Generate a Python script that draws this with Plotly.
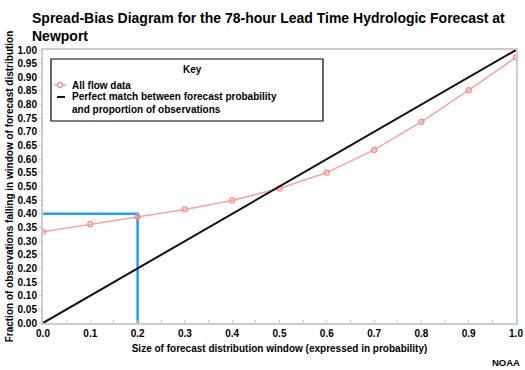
import plotly.graph_objects as go

# ---- data ----
window_size = [0.0, 0.1, 0.2, 0.3, 0.4, 0.5, 0.6, 0.7, 0.8, 0.9, 1.0]
all_flow = [0.334, 0.362, 0.389, 0.416, 0.449, 0.493, 0.551, 0.634, 0.737, 0.853, 0.973]
perfect_x = [0.0, 1.0]
perfect_y = [0.0, 1.0]
guide_x = [0.0, 0.2, 0.2]
guide_y = [0.4, 0.4, 0.0]
x_ticks = [0.0, 0.1, 0.2, 0.3, 0.4, 0.5, 0.6, 0.7, 0.8, 0.9, 1.0]
y_ticks = [i * 0.05 for i in range(21)]
legend_labels = ["All flow data",
                 "Perfect match between forecast probability<br>and proportion of observations"]

FONT = "Liberation Sans, Arial, sans-serif"
PINK_LINE = "#ffa0a0"
PINK_MARK = "#ff8a8a"
W, H = 525, 370
L, R, T, B = 43, 9, 50, 47
pw, ph = W - L - R, H - T - B


def px(x):
    return (x - L) / pw


def py(y):
    return (H - B - y) / ph


fig = go.Figure()
fig.add_trace(go.Scatter(x=guide_x, y=guide_y, mode="lines",
                         line=dict(color="#1ba3f5", width=2.5),
                         showlegend=False, hoverinfo="skip"))
fig.add_trace(go.Scatter(x=window_size, y=all_flow, mode="lines+markers",
                         name=legend_labels[0],
                         line=dict(color=PINK_LINE, width=1.5),
                         marker=dict(symbol="circle-open", size=5,
                                     color=PINK_MARK, line=dict(width=1.3))))
fig.add_trace(go.Scatter(x=perfect_x, y=perfect_y, mode="lines",
                         name=legend_labels[1],
                         line=dict(color="#111111", width=2)))

fig.update_layout(
    width=W, height=H,
    margin=dict(l=L, r=R, t=T, b=B, autoexpand=False),
    paper_bgcolor="white", plot_bgcolor="white",
    font=dict(family=FONT, size=10, color="black", weight="bold"),
    title=dict(text="Spread-Bias Diagram for the 78-hour Lead Time Hydrologic Forecast at<br>Newport",
               x=32 / W, xanchor="left", y=1 - 23 / H, yanchor="top",
               font=dict(family=FONT, size=14, color="black", weight="bold")),
    showlegend=False,
)

fig.update_xaxes(range=[0, 1], tickvals=x_ticks,
                 ticktext=[f"{v:.1f}" for v in x_ticks],
                 showgrid=False, zeroline=False,
                 showline=True, mirror=True, linecolor="#cccccc", linewidth=2,
                 ticks="inside", ticklen=3, tickcolor="#cccccc",
                 minor=dict(dtick=0.05, tick0=0, ticks="inside", ticklen=3, tickcolor="#cccccc"),
                 title=dict(text="Size of forecast distribution window (expressed in probability)",
                            standoff=7, font=dict(size=10, weight="bold")),
                 tickfont=dict(size=10, weight="bold"))
fig.update_yaxes(range=[0, 1], tickvals=y_ticks,
                 ticktext=[f"{v:.2f}" for v in y_ticks],
                 showgrid=False, zeroline=False,
                 showline=True, mirror=True, linecolor="#cccccc", linewidth=2,
                 ticks="outside", ticklen=2, tickcolor="#cccccc",
                 title=dict(text="Fraction of observations falling in window of forecast distribution",
                            standoff=2, font=dict(size=10, weight="bold")),
                 tickfont=dict(size=10, weight="bold"))

# Key box (legend drawn as a boxed key)
fig.add_shape(type="rect", xref="paper", yref="paper",
              x0=px(51), x1=px(323), y0=py(121), y1=py(59),
              line=dict(color="black", width=1.2), fillcolor="rgba(0,0,0,0)")
fig.add_annotation(text="Key", xref="paper", yref="paper",
                   x=px(181), y=py(69), yanchor="middle", showarrow=False,
                   font=dict(size=10, weight="bold"))
# legend symbols
fig.add_shape(type="line", xref="paper", yref="paper",
              x0=px(54), x1=px(66), y0=py(85), y1=py(85),
              line=dict(color=PINK_LINE, width=1.5))
fig.add_shape(type="circle", xref="paper", yref="paper",
              x0=px(57.5), x1=px(62.5), y0=py(87.5), y1=py(82.5),
              line=dict(color=PINK_MARK, width=1.3), fillcolor="white")
fig.add_shape(type="line", xref="paper", yref="paper",
              x0=px(57), x1=px(65), y0=py(97), y1=py(97),
              line=dict(color="#111111", width=2))
# legend texts
fig.add_annotation(text=legend_labels[0], xref="paper", yref="paper",
                   x=px(70), y=py(85), xanchor="left", yanchor="middle",
                   showarrow=False, font=dict(size=10, weight="bold"))
fig.add_annotation(text=legend_labels[1], xref="paper", yref="paper",
                   x=px(70), y=py(103), xanchor="left", yanchor="middle", align="left",
                   showarrow=False, font=dict(size=10, weight="bold"))

fig.add_annotation(text="NOAA", xref="paper", yref="paper",
                   x=px(522), y=py(362), xanchor="right", yanchor="middle", showarrow=False,
                   font=dict(size=9.5, weight="bold"))

fig.write_html("out.html", config={"displayModeBar": False},
               post_script="document.body.style.margin='0';")
